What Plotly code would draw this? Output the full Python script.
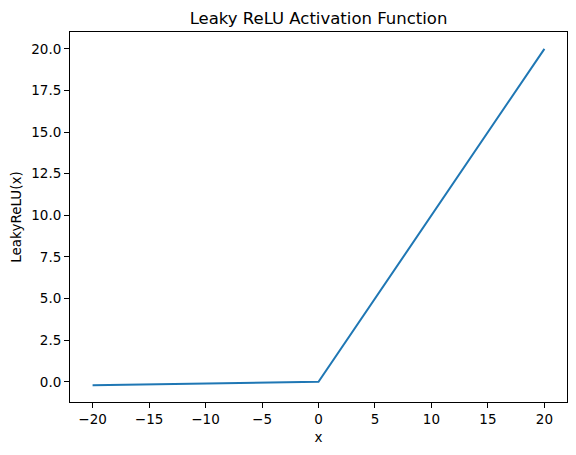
import plotly.graph_objects as go

# vertices of the Leaky ReLU curve (alpha = 0.01)
x_vals = [-20, 0, 20]
y_vals = [-0.2, 0.0, 20.0]

x_ticks = [-20, -15, -10, -5, 0, 5, 10, 15, 20]
y_ticks = [0.0, 2.5, 5.0, 7.5, 10.0, 12.5, 15.0, 17.5, 20.0]

font = "DejaVu Sans"

# the page body adds an 8px margin, so the figure is drawn 8px smaller
W, H = 568, 447

fig = go.Figure()
fig.add_trace(go.Scatter(
    x=x_vals, y=y_vals,
    mode="lines",
    line=dict(color="#1f77b4", width=2),
    showlegend=False
))

axis_style = dict(
    showgrid=False, zeroline=False,
    showline=True, linecolor="black", linewidth=1, mirror=True,
    ticks="outside", ticklen=5, tickwidth=1, tickcolor="black",
    tickfont=dict(family=font, size=13.5, color="black"),
    automargin=False,
)

fig.update_layout(
    width=W, height=H,
    margin=dict(l=62, r=9, t=24, b=53),
    plot_bgcolor="white", paper_bgcolor="white",
    title=dict(text="Leaky ReLU Activation Function", xref="paper", x=0.5, xanchor="center",
               y=1 - 10 / H, yanchor="middle",
               font=dict(family=font, size=16.5, color="black")),
    xaxis=dict(range=[-22, 22], tickvals=x_ticks,
               ticktext=[str(t).replace("-", "\u2212") for t in x_ticks],
               title=dict(text="x", font=dict(family=font, size=13.5, color="black"), standoff=6),
               **axis_style),
    yaxis=dict(range=[-1.21, 21.01], tickvals=y_ticks,
               ticktext=[f"{t:.1f}" for t in y_ticks],
               title=dict(text="LeakyReLU(x)", font=dict(family=font, size=13.5, color="black"), standoff=13),
               **axis_style),
)

fig.write_html("out.html")
